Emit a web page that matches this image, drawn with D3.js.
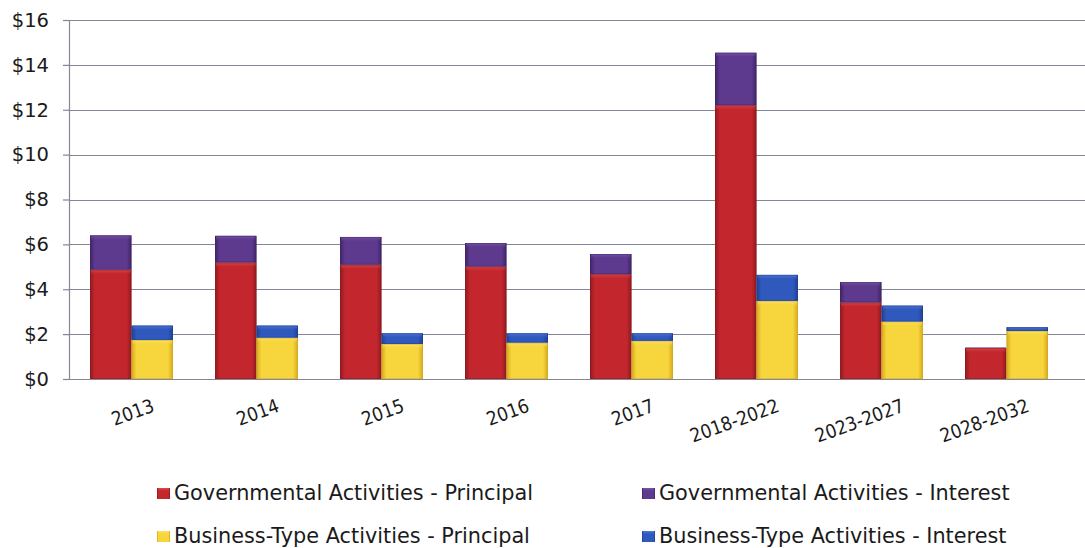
<!DOCTYPE html>
<html>
<head>
<meta charset="utf-8">
<script src="https://cdn.jsdelivr.net/npm/d3@7"></script>
<style>
  html, body { margin: 0; padding: 0; background: #ffffff; }
  svg { display: block; }
  text { font-family: "DejaVu Sans", sans-serif; fill: #1a1a1a; }
  .xlab { font-family: "DejaVu Sans Condensed", "DejaVu Sans", sans-serif; }
</style>
</head>
<body>
<svg id="chart" width="1085" height="548"></svg>
<script>
// Debt service schedule, in millions of dollars
const categories = ["2013", "2014", "2015", "2016", "2017", "2018-2022", "2023-2027", "2028-2032"];
const govPrincipal = [4.87, 5.19, 5.09, 5.01, 4.67, 12.20, 3.41, 1.38];
const govInterest  = [1.53, 1.19, 1.24, 1.05, 0.90, 2.34, 0.91, 0.02];
const busPrincipal = [1.74, 1.84, 1.56, 1.62, 1.70, 3.48, 2.56, 2.14];
const busInterest  = [0.64, 0.54, 0.48, 0.42, 0.34, 1.16, 0.71, 0.17];
const yTicks = [0, 2, 4, 6, 8, 10, 12, 14, 16];

const seriesNames = [
  "Governmental Activities - Principal",
  "Governmental Activities - Interest",
  "Business-Type Activities - Principal",
  "Business-Type Activities - Interest"
];

// colour sets: [edge, body, highlight]
const palette = {
  govP: ["#8e1a1f", "#c4262d", "#e0544f"],
  govI: ["#3f2468", "#5e3a8e", "#7d5cae"],
  busP: ["#d6a81c", "#f7d53c", "#fbe57a"],
  busI: ["#1f3f94", "#2f59bd", "#5a80d8"]
};

const svg = d3.select("#chart");
const plot = { left: 69, right: 1069, top: 20, bottom: 379, gridRight: 1085 };

const x = d3.scaleBand()
  .domain(categories)
  .range([plot.left, plot.right])
  .paddingInner(0.336)
  .paddingOuter(0.168);

const sub = d3.scaleBand()
  .domain(["gov", "bus"])
  .range([0, x.bandwidth()]);

const y = d3.scaleLinear().domain([0, 16]).range([plot.bottom, plot.top]);

// gradients giving the bars their bevelled look
const defs = svg.append("defs");
Object.entries(palette).forEach(([key, c]) => {
  const g = defs.append("linearGradient").attr("id", "grad-" + key)
    .attr("x1", "0").attr("x2", "1").attr("y1", "0").attr("y2", "0");
  g.append("stop").attr("offset", "0").attr("stop-color", c[0]);
  g.append("stop").attr("offset", "0.12").attr("stop-color", c[1]);
  g.append("stop").attr("offset", "0.5").attr("stop-color", c[1]);
  g.append("stop").attr("offset", "0.88").attr("stop-color", c[1]);
  g.append("stop").attr("offset", "1").attr("stop-color", c[0]);
  const t = defs.append("linearGradient").attr("id", "top-" + key)
    .attr("x1", "0").attr("x2", "0").attr("y1", "0").attr("y2", "1");
  t.append("stop").attr("offset", "0").attr("stop-color", c[2]).attr("stop-opacity", 0.9);
  t.append("stop").attr("offset", "1").attr("stop-color", c[1]).attr("stop-opacity", 0);
});

// horizontal gridlines and y-axis
const yAxis = d3.axisLeft(y)
  .tickValues(yTicks)
  .tickSize(6)
  .tickPadding(14)
  .tickFormat(d => "$" + d);

svg.append("g")
  .attr("class", "grid")
  .selectAll("line")
  .data(yTicks)
  .join("line")
  .attr("x1", plot.left).attr("x2", plot.gridRight)
  .attr("y1", d => Math.round(y(d)) + 0.5).attr("y2", d => Math.round(y(d)) + 0.5)
  .attr("stroke", "#86869a").attr("stroke-width", 1.2);

const gy = svg.append("g")
  .attr("transform", `translate(${plot.left},0)`)
  .call(yAxis);
gy.select(".domain").attr("stroke", "#86869a").attr("stroke-width", 1.2);
gy.selectAll(".tick line").attr("stroke", "#86869a").attr("stroke-width", 1.2);
gy.selectAll(".tick text")
  .style("font-size", "19.5px")
  .style("font-family", "\"DejaVu Sans\", sans-serif")
  .attr("fill", "#1a1a1a");

// stacked bars
const stacks = [
  { side: "gov", parts: [{ key: "govP", vals: govPrincipal }, { key: "govI", vals: govInterest }] },
  { side: "bus", parts: [{ key: "busP", vals: busPrincipal }, { key: "busI", vals: busInterest }] }
];

const barsG = svg.append("g");
categories.forEach((cat, i) => {
  stacks.forEach(stack => {
    let base = 0;
    const bx = x(cat) + sub(stack.side);
    const bw = sub.bandwidth();
    stack.parts.forEach(part => {
      const v = part.vals[i];
      const y0 = y(base), y1 = y(base + v);
      base += v;
      const h = y0 - y1;
      if (h <= 0) return;
      barsG.append("rect")
        .attr("x", bx).attr("y", y1).attr("width", bw).attr("height", h)
        .attr("fill", `url(#grad-${part.key})`);
      barsG.append("rect")
        .attr("x", bx + 1).attr("y", y1).attr("width", bw - 2).attr("height", Math.min(5, h))
        .attr("fill", `url(#top-${part.key})`);
      barsG.append("rect")
        .attr("x", bx + 0.5).attr("y", y1 + 0.5).attr("width", bw - 1).attr("height", Math.max(0, h - 1))
        .attr("fill", "none").attr("stroke", palette[part.key][0]).attr("stroke-opacity", 0.5);
    });
  });
});

// bottom axis line
svg.append("line")
  .attr("x1", plot.left).attr("x2", plot.gridRight)
  .attr("y1", Math.round(y(0)) + 0.5).attr("y2", Math.round(y(0)) + 0.5)
  .attr("stroke", "#86869a").attr("stroke-width", 1.2);

// rotated category labels
svg.append("g").selectAll("text")
  .data(categories)
  .join("text")
  .attr("class", "xlab")
  .attr("transform", d => `translate(${x(d) + x.bandwidth() / 2 + 24},${plot.bottom + 32}) rotate(-20)`)
  .attr("text-anchor", "end")
  .style("font-size", "19px")
  .text(d => d);

// legend
const legendItems = [
  { name: seriesNames[0], key: "govP", col: 0, row: 0 },
  { name: seriesNames[1], key: "govI", col: 1, row: 0 },
  { name: seriesNames[2], key: "busP", col: 0, row: 1 },
  { name: seriesNames[3], key: "busI", col: 1, row: 1 }
];
const legendX = [157, 642];
const legendY = [500, 543];
const lg = svg.append("g").selectAll("g")
  .data(legendItems)
  .join("g")
  .attr("transform", d => `translate(${legendX[d.col]},${legendY[d.row]})`);
lg.append("rect")
  .attr("x", 0).attr("y", -12).attr("width", 13).attr("height", 11)
  .attr("fill", d => `url(#grad-${d.key})`);
lg.append("rect")
  .attr("x", 1).attr("y", -12).attr("width", 11).attr("height", 4)
  .attr("fill", d => `url(#top-${d.key})`);
lg.append("text")
  .attr("x", 17).attr("y", 0)
  .style("font-size", "20.8px")
  .text(d => d.name);
</script>
</body>
</html>
